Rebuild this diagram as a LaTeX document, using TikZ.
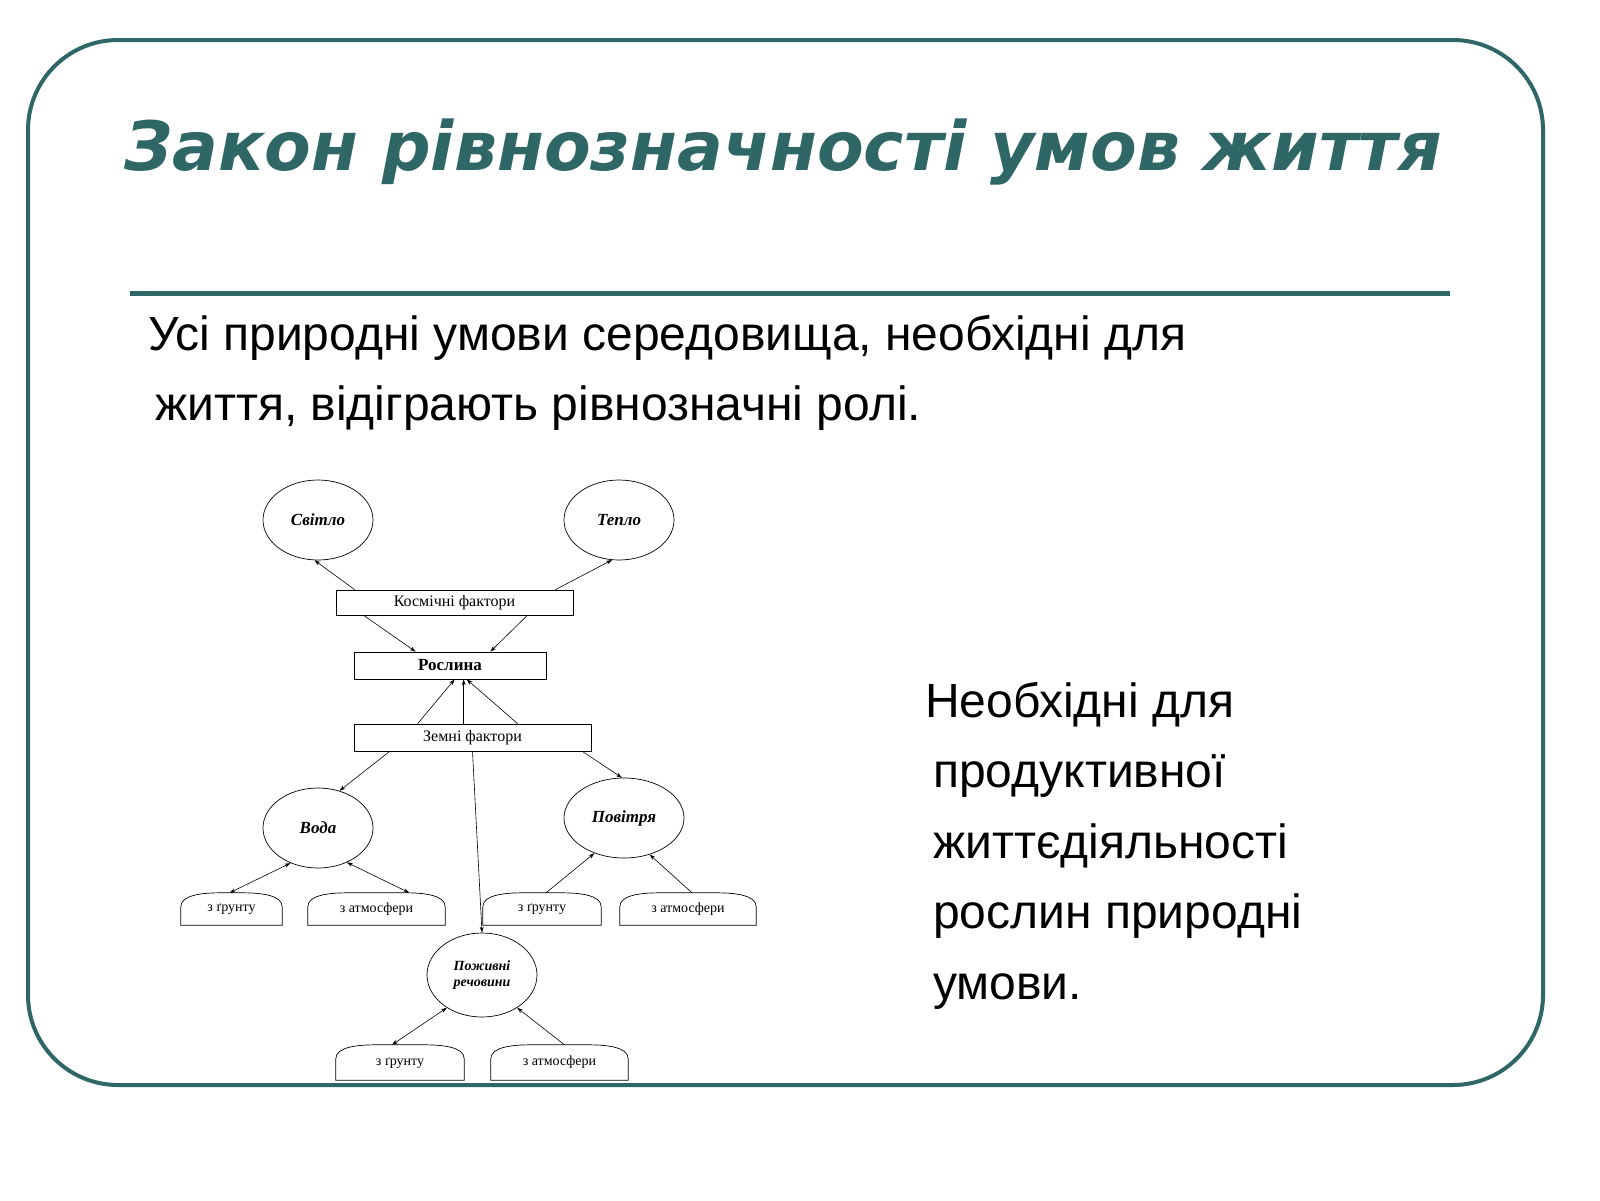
\documentclass[tikz,border=0pt]{standalone}
\usepackage{fontspec}
\setmainfont{Liberation Serif}
\newfontfamily\bodyfont{Liberation Sans}
\newfontfamily\titlefont{DejaVu Sans}
\usetikzlibrary{arrows.meta,calc,shapes.geometric}
\definecolor{teal1}{RGB}{47,102,102}
\begin{document}
\begin{tikzpicture}[x=1pt,y=-1pt,>={Stealth[length=6pt,width=4pt]},
    oval node/.style={ellipse,draw,minimum width=110pt,minimum height=80pt,font=\fontsize{17}{18}\selectfont\bfseries\itshape,align=center,line width=0.7pt},
    box node/.style={draw,font=\fontsize{16}{18}\selectfont,inner sep=0pt,line width=0.7pt},
    cap node/.style={font=\fontsize{14}{16}\selectfont,inner sep=0pt},
    arr/.style={->,line width=0.6pt}]
    \useasboundingbox (0,0) rectangle (1600,1200);
    \draw[teal1,line width=4pt,rounded corners=90pt] (28,40) rectangle (1543,1085);
    \draw[teal1,line width=5pt] (130,293) -- (1450,293);
    \node[teal1,font=\titlefont\fontsize{68}{72}\selectfont\bfseries\itshape] (title) at (783,152) {Закон рівнозначності умов життя};
    \node[anchor=west,inner sep=0pt,align=left,font=\bodyfont\fontsize{48}{70}\selectfont] (intro) at (148,373) {Усі природні умови середовища, необхідні для\\\hspace*{7pt}життя, відіграють рівнозначні ролі.};
    \node[anchor=north west,inner sep=0pt,align=left,font=\bodyfont\fontsize{48}{70.5}\selectfont] (note) at (925,682) {Необхідні для\\\hspace*{8pt}продуктивної\\\hspace*{8pt}життєдіяльності\\\hspace*{8pt}рослин природні\\\hspace*{8pt}умови.};

    % ellipses
    \node[oval node] (svitlo) at (318,520) {Світло};
    \node[oval node] (teplo) at (619,520) {Тепло};
    \node[oval node] (voda) at (318,828) {Вода};
    \node[oval node,minimum width=120pt] (povitria) at (624,818) {Повітря};
    \node[oval node,minimum height=84pt,font=\fontsize{14}{16}\selectfont\bfseries\itshape] (pozhyvni) at (482,975) {Поживні\\речовини};
    % boxes
    \node[box node,minimum width=237pt,minimum height=25pt] (kosm) at (454.5,602.5) {Космічні фактори};
    \node[box node,minimum width=192pt,minimum height=27pt,font=\fontsize{17}{18}\selectfont\bfseries] (roslyna) at (450,665.5) {Рослина};
    \node[box node,minimum width=237pt,minimum height=27pt] (zemni) at (472.5,737.5) {Земні фактори};
    % sources
    \node[cap node,minimum width=101pt,minimum height=32pt] (vg) at (231.5,909) {з ґрунту};
    \node[cap node,minimum width=137pt,minimum height=32pt] (va) at (376.5,909) {з атмосфери};
    \node[cap node,minimum width=118pt,minimum height=32pt] (pg) at (542,909) {з ґрунту};
    \node[cap node,minimum width=136pt,minimum height=32pt] (pa) at (688,909) {з атмосфери};
    \node[cap node,minimum width=128pt,minimum height=35pt] (ng) at (400,1062.5) {з ґрунту};
    \node[cap node,minimum width=137pt,minimum height=35pt] (na) at (559.5,1062.5) {з атмосфери};
    \foreach \n in {vg,va,pg,pa,ng,na}
        \draw[line width=0.7pt] (\n.south west) -- ($(\n.north west)+(0,14)$)
            .. controls ($(\n.north west)+(0,2)$) and ($(\n.north west)+(22,0)$) .. ($(\n.north west)+(40,0)$)
            -- ($(\n.north east)+(-40,0)$)
            .. controls ($(\n.north east)+(-22,0)$) and ($(\n.north east)+(0,2)$) .. ($(\n.north east)+(0,14)$)
            -- (\n.south east) -- cycle;

    % connectors
    \draw[arr] ($(kosm.north west)+(19,0)$) -- (svitlo.-95);
    \draw[arr] ($(kosm.north east)+(-18,0)$) -- (teplo.-100);
    \draw[arr] ($(kosm.south west)+(28,0)$) -- ($(roslyna.north west)+(62,0)$);
    \draw[arr] ($(kosm.south east)+(-46,0)$) -- ($(roslyna.north east)+(-56,0)$);
    \draw[arr] ($(zemni.north west)+(64,0)$) -- ($(roslyna.south west)+(101,0)$);
    \draw[arr] ($(zemni.north west)+(110,0)$) -- ($(roslyna.south west)+(110,0)$);
    \draw[arr] ($(zemni.north west)+(164,0)$) -- ($(roslyna.south west)+(113,0)$);
    \draw[arr] ($(zemni.south west)+(36,0)$) -- (voda.60);
    \draw[arr] ($(zemni.south east)+(-9,0)$) -- (povitria.93);
    \draw[arr] (zemni.south) -- (pozhyvni.north);
    \draw[<->,line width=0.6pt] (voda.-128) -- ($(vg.north)+(-2,0)$);
    \draw[<->,line width=0.6pt] (voda.-50) -- ($(va.north)+(33,0)$);
    \draw[arr] ($(pg.north)+(4,0)$) -- (povitria.-130);
    \draw[arr] ($(pa.north)+(4,0)$) -- (povitria.-55);
    \draw[<->,line width=0.6pt] (pozhyvni.-137) -- ($(ng.north)+(-8,0)$);
    \draw[arr] ($(na.north)+(5,0)$) -- (pozhyvni.-43);
\end{tikzpicture}
\end{document}
